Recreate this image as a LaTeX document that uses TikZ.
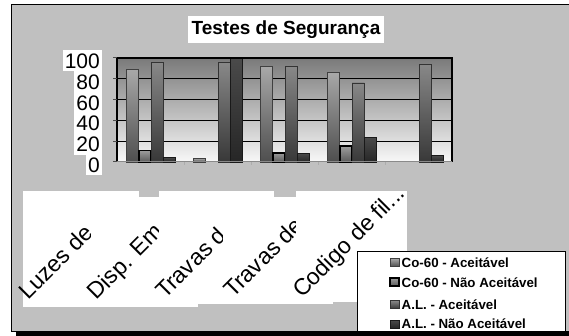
\documentclass[tikz,border=0pt]{standalone}
\usepackage{fontspec}
\setmainfont{Liberation Sans}
\definecolor{bgc}{HTML}{C0C0C0}
\definecolor{plottop}{HTML}{7A7A7A}
\definecolor{plotbot}{HTML}{F8F8F8}
\definecolor{axisgray}{HTML}{8A8A8A}
\definecolor{aTop}{HTML}{A8A8A8}
\definecolor{aBot}{HTML}{4E4E4E}
\definecolor{bTop}{HTML}{9C9C9C}
\definecolor{bBot}{HTML}{5A5A5A}
\definecolor{cTop}{HTML}{888888}
\definecolor{cBot}{HTML}{383838}
\definecolor{dTop}{HTML}{4A4A4A}
\definecolor{dBot}{HTML}{262626}
\tikzset{
  serA/.style={top color=aTop, bottom color=aBot, draw=black!75, line width=0.9pt},
  serB/.style={top color=bTop, bottom color=bBot, draw=black, line width=1.8pt},
  serC/.style={top color=cTop, bottom color=cBot, draw=black!80, line width=0.9pt},
  serD/.style={top color=dTop, bottom color=dBot, draw=black!90, line width=0.9pt},
  ylab/.style={fill=white, font=\fontsize{21}{21}\selectfont, inner xsep=2pt, inner ysep=1.5pt, text height=17pt, text depth=1.5pt, anchor=base east},
  catlab/.style={font=\fontsize{23}{23}\selectfont, inner sep=0pt, rotate=45, anchor=base west},
  legtext/.style={font=\bfseries\fontsize{13.3}{13.3}\selectfont, inner sep=0pt, anchor=base west},
  gridln/.style={black, line width=1pt},
}
\begin{document}
\begin{tikzpicture}[x=1pt,y=-1pt]
\useasboundingbox (0,0) rectangle (569,336);
% chart frame with shadow
\fill[black] (16,331) rectangle (600,337);
\draw[black, line width=1pt, fill=bgc] (11,5) rectangle (600,331);
% title
\node[fill=white, minimum width=196pt, minimum height=27pt, inner sep=0pt,
      font=\bfseries\fontsize{19}{19}\selectfont] (title) at (286,29.5) {Testes de Segurança};
% plot area
\path[top color=plottop, bottom color=plotbot] (117,58) rectangle (452,162);
\foreach \v in {20,40,60,80}
  \draw[gridln] (117,{162-1.04*\v}) -- (452,{162-1.04*\v});
% bars
\foreach \c/\v in {0/89,1/3.5,2/92,3/86}
  \path[serA] ({126.5+67*\c},162) rectangle ({138.8+67*\c},{162-1.04*\v});
\foreach \c/\v in {0/11,2/9,3/15}
  \path[serB] ({138.8+67*\c},162) rectangle ({151.1+67*\c},{162-1.04*\v});
\foreach \c/\v in {0/95.5,1/96,2/92,3/76,4/94}
  \path[serC] ({151.1+67*\c},162) rectangle ({163.4+67*\c},{162-1.04*\v});
\foreach \c/\v in {0/4.5,1/100,2/8.5,3/24,4/6}
  \path[serD] ({163.4+67*\c},162) rectangle ({175.7+67*\c},{162-1.04*\v});
% plot borders and axes
\draw[black, line width=2.2pt] (117,162) -- (117,58) -- (452,58) -- (452,162);
\draw[axisgray, line width=1.8pt] (116,161.5) -- (452,161.5);
\foreach \i in {1,2,3,4}
  \draw[axisgray!70, line width=0.8pt] ({117+67*\i},162) -- ({117+67*\i},165);
\foreach \v in {0,20,40,60,80,100}
  \draw[black!70, line width=1pt] (113,{162-1.04*\v}) -- (117,{162-1.04*\v});
% y labels
\node[ylab] (y100) at (102,68.5) {100};
\node[ylab] (y80) at (102,89.3) {80};
\node[ylab] (y60) at (102,110.1) {60};
\node[ylab] (y40) at (102,130.9) {40};
\node[ylab] (y20) at (102,151.7) {20};
\node[ylab] (y0) at (102,172.5) {0};
% category labels with their white boxes
\fill[white] (23,191) rectangle (139,307);
\node[catlab] (c1) at (28,301) {Luzes de};
\fill[white] (91,197) rectangle (198,307);
\node[catlab] (c2) at (96.5,301) {Disp. Em};
\fill[white] (159,191) rectangle (274,304);
\node[catlab] (c3) at (165,300) {Travas d};
\fill[white] (223,197) rectangle (333,304);
\node[catlab] (c4) at (233,299) {Travas de};
\fill[white] (296,191) rectangle (407,302);
\node[catlab] (c5) at (302,299) {Codigo de fil...};
% legend
\draw[black, line width=1pt, fill=white] (357.5,331) -- (357.5,251) -- (565,251) -- (565,331);
\path[serA] (390,258.5) rectangle (399,266.5);
\node[legtext] (l1) at (401.5,267.5) {Co-60 - Aceitável};
\path[serB] (390,278) rectangle (399,286);
\node[legtext] (l2) at (401.5,287) {Co-60 - Não Aceitável};
\path[serC] (390,300.5) rectangle (399,308.5);
\node[legtext] (l3) at (401.5,309) {A.L. - Aceitável};
\path[serD] (390,320) rectangle (399,328);
\node[legtext] (l4) at (401.5,328.5) {A.L. - Não Aceitável};
\end{tikzpicture}
\end{document}
